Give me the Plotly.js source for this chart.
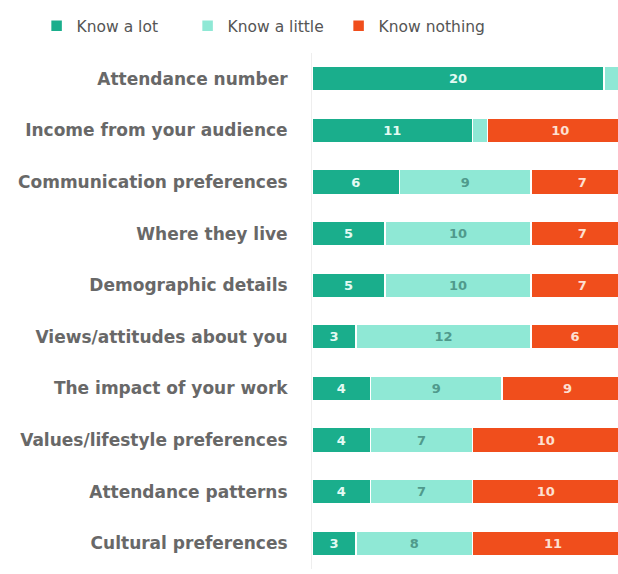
<!DOCTYPE html>
<html>
<head>
<meta charset="utf-8">
<script src="https://cdn.plot.ly/plotly-3.0.1.min.js"></script>
<style>html,body{margin:0;padding:0;background:#fff;}#chart{width:618px;height:574px;}</style>
</head>
<body>
<div id="chart"></div>
<script>
const categories = [
  "Attendance number",
  "Income from your audience",
  "Communication preferences",
  "Where they live",
  "Demographic details",
  "Views/attitudes about you",
  "The impact of your work",
  "Values/lifestyle preferences",
  "Attendance patterns",
  "Cultural preferences"
];
const knowALot    = [20, 11, 6, 5, 5, 3, 4, 4, 4, 3];
const knowALittle = [1, 1, 9, 10, 10, 12, 9, 7, 7, 8];
const knowNothing = [1, 10, 7, 7, 7, 6, 9, 10, 10, 11];
const seriesNames = ["Know a lot", "Know a little", "Know nothing"];
const colors = ["#1aae8c", "#8fe8d5", "#f04e1c"];
const textColors = ["#e3faf3", "#4f9a8c", "#fde0d2"];

const series = [knowALot, knowALittle, knowNothing];
const traces = series.map((vals, i) => ({
  type: "bar",
  orientation: "h",
  name: seriesNames[i],
  y: categories,
  x: vals,
  text: vals.map(v => v > 1 ? String(v) : ""),
  textposition: "inside",
  insidetextanchor: "middle",
  textangle: 0,
  insidetextfont: {family: "DejaVu Sans, sans-serif", size: 13, weight: "bold", color: textColors[i]},
  marker: {color: colors[i], line: {color: "#ffffff", width: 1.5}},
  hoverinfo: "none",
  cliponaxis: true
}));

const layout = {
  width: 618,
  height: 574,
  barmode: "stack",
  bargap: 0.52,
  margin: {l: 312, r: 0, t: 53, b: 5},
  paper_bgcolor: "#ffffff",
  plot_bgcolor: "#ffffff",
  font: {family: "DejaVu Sans, sans-serif", color: "#555555", size: 16},
  showlegend: true,
  legend: {
    orientation: "h",
    xref: "paper", yref: "paper",
    x: -0.9, y: 1.085, xanchor: "left", yanchor: "top",
    font: {size: 15.5, color: "#555555"},
    itemwidth: 30,
    entrywidth: 106,
    entrywidthmode: "pixels",
    traceorder: "normal"
  },
  xaxis: {
    range: [0, 20.95],
    showgrid: false, zeroline: false, showticklabels: false, showline: false, fixedrange: true
  },
  yaxis: {
    autorange: "reversed",
    showgrid: false, zeroline: false,
    showline: true, linecolor: "#eeeeee", linewidth: 1,
    ticks: "", ticklabelstandoff: 20,
    tickfont: {size: 17, weight: "bold", color: "#686868"}
  }
};

Plotly.newPlot("chart", traces, layout, {displayModeBar: false, staticPlot: true});
</script>
</body>
</html>
